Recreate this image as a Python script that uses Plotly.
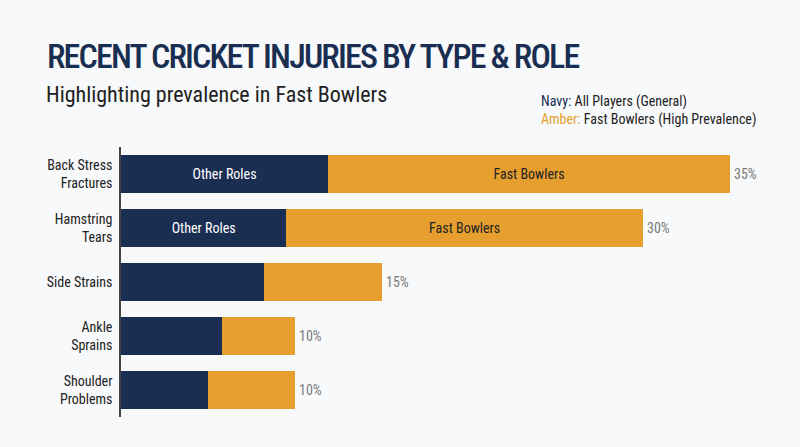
import plotly.graph_objects as go

# Injury categories, top to bottom
categories = ["Back Stress<br>Fractures", "Hamstring<br>Tears", "Side Strains",
              "Ankle<br>Sprains", "Shoulder<br>Problems"]
# total prevalence (%) and the share that is "other roles" (navy part)
totals = [35, 30, 15, 10, 10]
other_roles = [11.9, 9.5, 8.2, 5.8, 5.0]
fast_bowlers = [t - o for t, o in zip(totals, other_roles)]
other_text = ["Other Roles", "Other Roles", "", "", ""]
fast_text = ["Fast Bowlers", "Fast Bowlers", "", "", ""]
total_labels = [f"{t}%" for t in totals]

NAVY = "#1a2e52"
AMBER = "#e69f2f"
BG = "#f8f9fa"
FONT = "Roboto Condensed, Liberation Sans Narrow, Arial Narrow, DejaVu Sans Condensed, sans-serif"

# plot area in pixels (page is 800x447)
L, R, T, B = 121, 20, 147, 30
PW, PH = 800 - L - R, 447 - T - B


def px_x(x):
    return (x - L) / PW


def px_y(y):
    return (447 - B - y) / PH


fig = go.Figure()
fig.add_trace(go.Bar(
    y=categories, x=other_roles, orientation="h", name="Other Roles",
    marker=dict(color=NAVY, line=dict(width=0)),
    text=other_text, textposition="inside", insidetextanchor="middle",
    textfont=dict(color="white", size=14, family=FONT),
))
fig.add_trace(go.Bar(
    y=categories, x=fast_bowlers, orientation="h", name="Fast Bowlers",
    marker=dict(color=AMBER, line=dict(width=0)),
    text=fast_text, textposition="inside", insidetextanchor="middle",
    textfont=dict(color="#222222", size=14, family=FONT),
))

# total % labels at the end of each bar
for cat, tot, lab in zip(categories, totals, total_labels):
    fig.add_annotation(x=tot, y=cat, text=lab, showarrow=False,
                       xanchor="left", xshift=2,
                       font=dict(size=14, color="#7a7a7a", family=FONT))

# title, subtitle and colour key
fig.add_annotation(text="<span style='letter-spacing:-1.85px'>RECENT CRICKET INJURIES BY TYPE &amp; ROLE</span>",
                   xref="paper", yref="paper", x=px_x(45), y=px_y(56),
                   xanchor="left", yanchor="middle", showarrow=False,
                   font=dict(size=34, color=NAVY, family=FONT, weight=500))
fig.add_annotation(text="Highlighting prevalence in Fast Bowlers",
                   xref="paper", yref="paper", x=px_x(44), y=px_y(95),
                   xanchor="left", yanchor="middle", showarrow=False,
                   font=dict(size=22, color="#222222", family=FONT))
fig.add_annotation(text=f"<span style='color:{NAVY}'>Navy:</span> All Players (General)<br>"
                        f"<span style='color:{AMBER}'>Amber:</span> Fast Bowlers (High Prevalence)",
                   xref="paper", yref="paper", x=px_x(539), y=px_y(110),
                   xanchor="left", yanchor="middle", align="left", showarrow=False,
                   font=dict(size=14, color="#222222", family=FONT))

fig.update_layout(
    barmode="stack",
    bargap=0.28,
    margin=dict(l=L, r=R, t=T, b=B),
    paper_bgcolor=BG, plot_bgcolor=BG,
    showlegend=False,
    font=dict(family=FONT, size=14, color="#222222"),
    xaxis=dict(range=[0, PW / 17.4], visible=False, fixedrange=True),
    yaxis=dict(autorange="reversed", showline=True, linecolor="#444444", linewidth=1.5,
               ticks="", ticklabelstandoff=4, showgrid=False,
               tickfont=dict(size=14, color="#222222", family=FONT)),
)

# drop the browser's default 8px page margin so the figure sits at 0,0
fig.write_html("out.html", default_width="800px", default_height="447px",
               config={"displayModeBar": False},
               post_script="document.body.style.margin='0';")
